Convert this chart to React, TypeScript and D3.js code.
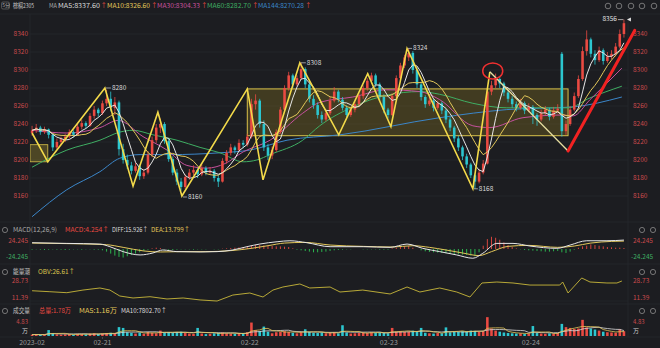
import React from "react";
import * as d3 from "d3";

const W = 660, H = 348;

const opens = [
  8230, 8233, 8236, 8231, 8234, 8228, 8214, 8220, 8223, 8226, 8231, 8228,
  8237, 8241, 8238, 8249, 8256, 8252, 8263, 8268, 8258, 8264, 8212, 8200,
  8194, 8188, 8193, 8182, 8186, 8206, 8222, 8236, 8240, 8221, 8201, 8186,
  8176, 8170, 8181, 8186, 8189, 8184, 8191, 8186, 8188, 8180, 8176, 8199,
  8208, 8214, 8211, 8219, 8217, 8226, 8262, 8266, 8240, 8214, 8205, 8211,
  8231, 8256, 8280, 8294, 8284, 8291, 8301, 8284, 8268, 8261, 8250, 8245,
  8252, 8266, 8276, 8267, 8258, 8250, 8256, 8262, 8271, 8280, 8288, 8294,
  8284, 8270, 8256, 8250, 8271, 8291, 8305, 8314, 8319, 8300, 8284, 8270,
  8262, 8266, 8258, 8263, 8255, 8245, 8236, 8224, 8214, 8204, 8195, 8183,
  8176, 8186, 8196, 8276, 8283, 8290, 8285, 8275, 8268, 8262, 8258, 8263,
  8255, 8259, 8250, 8245, 8252, 8256, 8248, 8255, 8318, 8232, 8240, 8256,
  8271, 8290, 8321, 8334, 8318, 8311, 8322, 8310, 8315, 8318, 8326, 8340,
];
const highs = [
  8238, 8240, 8238, 8237, 8235, 8229, 8224, 8226, 8229, 8234, 8233, 8240,
  8245, 8243, 8252, 8260, 8258, 8266, 8278, 8276, 8270, 8266, 8218, 8206,
  8198, 8197, 8195, 8190, 8210, 8226, 8240, 8246, 8242, 8224, 8204, 8190,
  8180, 8184, 8190, 8194, 8191, 8195, 8193, 8192, 8190, 8183, 8202, 8211,
  8218, 8216, 8223, 8222, 8229, 8268, 8273, 8268, 8244, 8218, 8215, 8234,
  8259, 8283, 8298, 8296, 8294, 8308, 8303, 8287, 8272, 8264, 8254, 8256,
  8270, 8281, 8278, 8270, 8261, 8259, 8265, 8274, 8283, 8291, 8297, 8296,
  8286, 8273, 8258, 8274, 8294, 8308, 8317, 8324, 8321, 8303, 8287, 8272,
  8270, 8268, 8266, 8265, 8257, 8248, 8238, 8227, 8216, 8207, 8197, 8185,
  8190, 8200, 8280, 8288, 8296, 8293, 8287, 8278, 8271, 8265, 8268, 8265,
  8263, 8261, 8252, 8256, 8260, 8258, 8259, 8262, 8320, 8244, 8260, 8275,
  8294, 8326, 8344, 8336, 8322, 8326, 8324, 8320, 8322, 8330, 8345, 8356,
];
const lows = [
  8227, 8230, 8228, 8229, 8224, 8210, 8212, 8217, 8220, 8224, 8225, 8227,
  8234, 8235, 8237, 8246, 8248, 8250, 8260, 8254, 8250, 8205, 8196, 8190,
  8184, 8186, 8178, 8179, 8184, 8203, 8219, 8230, 8218, 8198, 8183, 8172,
  8166, 8168, 8178, 8183, 8180, 8182, 8183, 8184, 8176, 8170, 8175, 8196,
  8205, 8207, 8209, 8213, 8215, 8224, 8256, 8236, 8210, 8200, 8201, 8209,
  8229, 8254, 8277, 8280, 8282, 8289, 8280, 8264, 8257, 8246, 8241, 8243,
  8250, 8264, 8264, 8255, 8247, 8248, 8253, 8260, 8268, 8277, 8285, 8281,
  8266, 8252, 8246, 8249, 8269, 8288, 8302, 8310, 8296, 8280, 8266, 8258,
  8260, 8254, 8256, 8251, 8241, 8232, 8220, 8210, 8200, 8191, 8180, 8168,
  8174, 8184, 8195, 8272, 8280, 8280, 8271, 8264, 8258, 8254, 8256, 8251,
  8253, 8240, 8238, 8243, 8250, 8244, 8246, 8252, 8226, 8228, 8238, 8254,
  8269, 8288, 8316, 8314, 8306, 8309, 8306, 8308, 8312, 8315, 8324, 8336,
];
const closes = [
  8233, 8236, 8231, 8234, 8228, 8214, 8220, 8223, 8226, 8231, 8228, 8237,
  8241, 8238, 8249, 8256, 8252, 8263, 8268, 8258, 8264, 8212, 8200, 8194,
  8188, 8193, 8182, 8186, 8206, 8222, 8236, 8240, 8221, 8201, 8186, 8176,
  8170, 8181, 8186, 8189, 8184, 8191, 8186, 8188, 8180, 8176, 8199, 8208,
  8214, 8211, 8219, 8217, 8226, 8262, 8266, 8240, 8214, 8205, 8211, 8231,
  8256, 8280, 8294, 8284, 8291, 8301, 8284, 8268, 8261, 8250, 8245, 8252,
  8266, 8276, 8267, 8258, 8250, 8256, 8262, 8271, 8280, 8288, 8294, 8284,
  8270, 8256, 8250, 8271, 8291, 8305, 8314, 8319, 8300, 8284, 8270, 8262,
  8266, 8258, 8263, 8255, 8245, 8236, 8224, 8214, 8204, 8195, 8183, 8176,
  8186, 8196, 8276, 8283, 8290, 8285, 8275, 8268, 8262, 8258, 8263, 8255,
  8259, 8250, 8245, 8252, 8256, 8248, 8255, 8257, 8232, 8240, 8256, 8271,
  8290, 8321, 8334, 8318, 8311, 8322, 8310, 8315, 8318, 8326, 8340, 8352,
];
const volumes = [
  0.5, 0.6, 0.4, 0.5, 2.2, 1.0, 0.6, 0.5, 0.6, 0.7, 0.5, 0.8,
  0.7, 0.6, 0.9, 1.0, 0.7, 0.9, 1.1, 1.2, 0.9, 3.3, 3.0, 1.4,
  1.2, 0.9, 1.3, 0.8, 1.5, 1.2, 1.0, 2.0, 1.3, 1.5, 1.2, 1.4,
  1.6, 1.1, 0.9, 0.8, 3.0, 0.9, 0.7, 0.8, 1.0, 1.2, 1.3, 1.0,
  0.9, 0.8, 1.0, 0.9, 1.4, 5.0, 2.2, 1.8, 3.5, 1.6, 1.0, 1.4,
  1.6, 1.8, 1.5, 1.2, 1.0, 1.4, 2.5, 1.5, 1.2, 1.1, 1.3, 1.0,
  1.2, 1.4, 1.0, 4.0, 1.3, 0.9, 1.0, 1.2, 1.3, 1.1, 1.4, 1.2,
  1.3, 1.1, 1.0, 3.0, 1.6, 1.8, 1.5, 1.6, 2.0, 1.5, 3.0, 1.2,
  1.0, 0.9, 1.1, 1.0, 3.2, 1.4, 1.6, 1.5, 1.8, 1.7, 2.0, 1.9,
  1.5, 1.8, 7.0, 2.8, 2.0, 1.6, 1.3, 1.1, 1.0, 0.9, 1.0, 0.8,
  0.9, 3.7, 1.1, 0.9, 0.8, 1.0, 0.9, 1.1, 4.5, 3.3, 3.0, 2.6,
  2.8, 6.0, 3.2, 2.8, 2.4, 2.0, 1.6, 1.4, 1.3, 1.2, 2.5, 1.8,
];

// moving averages (bar index, value)
const ma30Idx = [0, 8.4, 16.4, 20.8, 26.8, 32.6, 37.4, 42.3, 46.6, 51, 57.5, 65.4, 69.5, 77.5, 85.7, 93.7, 98.5, 106.5, 110.6, 118.6, 128.2, 130.7, 134.8, 142.5];
const ma30Val = [8233, 8230, 8236, 8244, 8226, 8211, 8194, 8191, 8196, 8209, 8222, 8252, 8264, 8270, 8278, 8276, 8267, 8238, 8236, 8247, 8250, 8249, 8267, 8302];
const ma60Idx = [0, 8.4, 16.4, 21.2, 24.4, 29.2, 35, 40.6, 45.4, 51, 54.3, 57.5, 65.4, 69.5, 77.5, 85.7, 93.7, 98.5, 106.5, 114.7, 122.7, 129.5, 134.8, 142.5];
const ma60Val = [8192, 8211, 8222, 8231, 8233, 8228, 8222, 8214, 8208, 8198, 8200, 8206, 8222, 8238, 8259, 8272, 8276, 8273, 8263, 8258, 8258, 8258, 8269, 8282];
const ma144Idx = [0, 8.4, 16.4, 21.2, 26.1, 33.3, 45.4, 52.6, 61.6, 74.4, 98.5, 114.7, 130.7, 142.5];
const ma144Val = [8137, 8167, 8187, 8202, 8206, 8206, 8208, 8211, 8222, 8228, 8247, 8256, 8259, 8270];

// MACD
const diffIdx = [0, 8.4, 16.4, 18.8, 22, 26.1, 29.2, 31.6, 35, 40.6, 44.7, 48.5, 51.9, 55, 59.2, 62.3, 66.4, 72, 80, 86.5, 90.6, 94.4, 98.5, 102.6, 106.5, 108.9, 112.3, 116.2, 120.3, 126.8, 130, 134, 138.9, 143];
const diffVal = [19, 17, 15, 7, -8, -18, -12, -3, -8, -9, -8, -3, 7, 15, 22, 25, 19, 7, 7, 5, 15, 2, -8, -18, -28, -13, 17, 17, 9, 2, 12, 25, 25, 27];
const deaIdx = [0, 10, 18, 22, 27, 31, 36, 42, 48, 53, 57, 61, 66, 72, 80, 87, 92, 96, 100, 104, 108, 111, 115, 120, 127, 131, 135, 140, 143];
const deaVal = [18, 16, 13, 5, -6, -9, -8, -8, -5, 2, 10, 18, 20, 12, 8, 6, 10, 5, -3, -12, -20, -8, 8, 11, 5, 9, 18, 23, 24];
const macdHist = [
  -2, -1, -2, -3, -2, -1, -2, -2, -3, -2, -1, -1, -2, -1, -1, -2, -2,
  -4, -8, -14, -20, -24, -26, -22, -18, -14, -10, -6,
  -2, 2, 4, 3,
  -1, -2, -3, -2, -1, -1, -1, -2, -1, -1, -1, 0, -1, -1,
  1, 2, 3, 4, 5, 6, 8, 10, 12, 12, 11, 10, 9, 8, 8, 7, 6,
  2, -2, -4, -6, -8, -10, -10, -9, -8, -6,
  -4, -3, -2, -1, -1, 0, 0, -1, -1, -1, -1, -2, -2, -2,
  2, 4, 6, 8, 9,
  4, 0, -4, -7, -9, -10, -11, -12,
  -13, -14, -15, -16, -17, -18, -20, -22,
  -10, 10, 30, 37, 34, 28, 20, 12,
  6, 2, -1, -3, -4, -5, -6, -7, -8, -8, -7, -6,
  -10, -12, -8, -2, 4, 8, 10,
  14, 12, 10, 8, 6, 5, 4, 4, 3,
];

const obvIdx = [0, 4.3, 8.4, 12.3, 16.4, 18.8, 21.2, 24.4, 28.5, 32.6, 36.5, 40.6, 44.7, 48.5, 52.6, 55.8, 58.2, 60.6, 64.7, 67.1, 72, 74.4, 79.9, 86.5, 90.6, 93.7, 98.5, 102.6, 105.8, 108.7, 112.3, 116.2, 120.3, 127.5, 128.2, 129.5, 132.8, 134.8, 138.9, 141.3, 142.5];
const obvVal = [18.8, 17.8, 16.8, 19.5, 21.6, 19.5, 13.4, 11.4, 12.7, 10.4, 11.4, 9.4, 8.3, 14.4, 16.5, 12.4, 19.5, 22.6, 25.7, 21.6, 22.6, 17.5, 19.5, 15.5, 22.6, 17.5, 21.6, 17.5, 12.4, 26.7, 27.7, 26.7, 24.6, 24.6, 27.7, 16.5, 31.8, 27.7, 26.7, 26.7, 28.7];

// drawn annotations (bar index, price)
const zigIdx = [0, 3.8, 17.6, 24.4, 30.4, 36.2, 52, 55.8, 64.7, 74.1, 81.1, 86.7, 90.6, 106.5, 110.6];
const zigVal = [8230, 8198, 8280, 8171, 8253, 8160, 8279, 8178, 8308, 8228, 8296, 8237, 8324, 8168, 8298];
const fallIdx = [110.6, 129.5];
const fallVal = [8298, 8210];
const arrowIdx = [129.5, 145.6];
const arrowVal = [8210, 8344];
const box1Idx = [-0.5, 3.8];
const box1Val = [8217, 8198];
const box2Idx = [52, 129.5];
const box2Val = [8279, 8227];
const circleIdx = 111.3, circleVal = 8299;

const priceTicks = [8340, 8320, 8300, 8280, 8260, 8240, 8220, 8200, 8180, 8160];
const dateLabels = ["2023-02", "02-21", "02-22", "02-23", "02-24"];
const dateIdx = [0, 17, 52.6, 86.2, 120.5];

const UP = "#ea4a42", DN = "#2cc6cf", GR = "#2cc452";
const BG = "#1c1d21";
const GRID = "#27282d";
const FONT = "'Noto Sans CJK SC', 'Noto Sans', sans-serif";

function sma(a: number[], n: number) {
  return a.map((_, i) => d3.mean(a.slice(Math.max(0, i - n + 1), i + 1)) as number);
}

export default function App() {
  const N = closes.length;
  const x = d3.scaleLinear().domain([-0.5, N - 0.5]).range([30, 626]);
  const bw = ((626 - 30) / N) * 0.62;
  const y = d3.scaleLinear().domain([8160, 8340]).range([196, 34]);
  const yM = d3.scaleLinear().domain([-24.245, 24.245]).range([257, 241]);
  const yO = d3.scaleLinear().domain([11.39, 28.73]).range([298, 281]);
  const yV = d3.scaleLinear().domain([0, 4.83]).range([336, 323]);

  const idx = d3.range(N);
  const lineP = (vals: number[], ys = y) =>
    d3.line<number>().x((_, i) => x(i)).y((v) => ys(v))(vals) as string;
  const linePts = (ix: number[], vs: number[], ys = y, curve: any = d3.curveMonotoneX) =>
    d3.line<number>().x((v) => x(v)).y((_, i) => ys(vs[i])).curve(curve)(ix) as string;

  const ma5 = sma(closes, 5);
  const ma10 = sma(closes, 10);
  const vma5 = sma(volumes, 5), vma10 = sma(volumes, 10);

  const t = (s: string, px: number, py: number, fill: string, extra: any = {}) => (
    <text x={px} y={py} fill={fill} fontSize={7} fontFamily={FONT} dominantBaseline="middle" {...extra}>{s}</text>
  );
  const tl = (s: string, px: number, py: number, fill: string, len: number) =>
    t(s, px, py, fill, { fontSize: 6.5, textLength: len, lengthAdjust: "spacingAndGlyphs" });

  const labelAt = (i: number, v: number, s: string, dx: number, dy: number) => {
    const px = x(i), py = y(v);
    return (
      <g key={s}>
        <line x1={px + 1} x2={px + dx - 1} y1={py + dy} y2={py + dy} stroke="#cfcfcf" strokeWidth={0.7} />
        {t(s, px + dx, py + dy, "#d8d8d8", { fontSize: 6.5 })}
      </g>
    );
  };

  return (
    <svg width={W} height={H} style={{ position: "absolute", left: 0, top: 0, background: BG }}>
      <rect x={0} y={0} width={W} height={H} fill={BG} />
      <defs>
        <clipPath id="mainClip"><rect x={30} y={15} width={598} height={205} /></clipPath>
        <clipPath id="macdClip"><rect x={30} y={234} width={598} height={29} /></clipPath>
      </defs>

      {/* grid */}
      {priceTicks.map((p) => (
        <line key={p} x1={30} x2={628} y1={y(p)} y2={y(p)} stroke={GRID} strokeWidth={0.8} />
      ))}
      <line x1={30} x2={30} y1={14} y2={337} stroke={GRID} strokeWidth={0.8} />
      <line x1={628} x2={628} y1={14} y2={337} stroke={GRID} strokeWidth={0.8} />
      {[14, 222, 264, 304, 337].map((yy) => (
        <line key={yy} x1={0} x2={W} y1={yy} y2={yy} stroke={GRID} strokeWidth={0.8} />
      ))}
      <line x1={30} x2={628} y1={yO(11.39) + 3} y2={yO(11.39) + 3} stroke={GRID} strokeWidth={0.6} />

      {/* header */}
      <rect x={1.5} y={2} width={8} height={7} rx={1.5} fill="none" stroke="#777" strokeWidth={0.6} />
      {t("5分", 2.2, 6, "#aaa", { fontSize: 5 })}
      {tl("棕榈2305", 13, 6, "#c8c8c8", 21)}
      {tl("MA", 49, 6, "#aaa", 8)}
      {tl("MA5:8337.60", 58, 6, "#d9d9d9", 42)}
      {t("↑", 100.5, 6, UP, { fontSize: 6.5 })}
      {tl("MA10:8326.60", 107, 6, "#e3c75a", 43)}
      {t("↑", 151, 6, UP, { fontSize: 6.5 })}
      {tl("MA30:8304.33", 157, 6, "#c6519d", 43)}
      {t("↑", 201, 6, UP, { fontSize: 6.5 })}
      {tl("MA60:8282.70", 207, 6, "#3fae63", 44)}
      {t("↑", 252, 6, UP, { fontSize: 6.5 })}
      {tl("MA144:8270.28", 258, 6, "#3b86c9", 46)}
      {t("↑", 305, 6, UP, { fontSize: 6.5 })}
      {[608, 619, 631, 642, 654].map((cx) => (
        <circle key={cx} cx={cx} cy={6} r={2.8} fill="none" stroke="#8a8a8a" strokeWidth={0.8} />
      ))}

      {/* price axis labels */}
      {priceTicks.map((p) => (
        <g key={"l" + p}>
          {t(String(p), 28, y(p), "#c84a4c", { textAnchor: "end", fontSize: 6.5 })}
          {t(String(p), 633, y(p), "#c84a4c", { fontSize: 6.5 })}
        </g>
      ))}

      <g clipPath="url(#mainClip)">
        <rect x={x(box1Idx[0])} y={y(box1Val[0])} width={x(box1Idx[1]) - x(box1Idx[0])} height={y(box1Val[1]) - y(box1Val[0])}
          fill="#8a7a2a" fillOpacity={0.45} stroke="#d9c24a" strokeWidth={0.8} />
        <rect x={x(box2Idx[0])} y={y(box2Val[0])} width={x(box2Idx[1]) - x(box2Idx[0])} height={y(box2Val[1]) - y(box2Val[0])}
          fill="#7a6a22" fillOpacity={0.4} stroke="#d9c24a" strokeWidth={1} />

        <path d={linePts(ma144Idx, ma144Val)} fill="none" stroke="#3b86c9" strokeWidth={1} />
        <path d={linePts(ma60Idx, ma60Val)} fill="none" stroke="#3fae63" strokeWidth={1} />
        <path d={linePts(ma30Idx, ma30Val)} fill="none" stroke="#c6519d" strokeWidth={1} />

        {idx.map((i) => {
          const up = closes[i] >= opens[i];
          const c = up ? UP : DN;
          const top = y(Math.max(opens[i], closes[i]));
          const bot = y(Math.min(opens[i], closes[i]));
          return (
            <g key={i}>
              <line x1={x(i)} x2={x(i)} y1={y(highs[i])} y2={y(lows[i])} stroke={c} strokeWidth={0.8} />
              <rect x={x(i) - bw / 2} y={top} width={bw} height={Math.max(0.8, bot - top)} fill={c} />
            </g>
          );
        })}

        <path d={lineP(ma10)} fill="none" stroke="#e3c75a" strokeWidth={1} />
        <path d={lineP(ma5)} fill="none" stroke="#e6e6e6" strokeWidth={1} />

        <path d={linePts(zigIdx, zigVal, y, d3.curveLinear)} fill="none" stroke="#f3da4a" strokeWidth={1.6} />
        <path d={linePts(fallIdx, fallVal, y, d3.curveLinear)} fill="none" stroke="#e8e0a2" strokeWidth={1.3} />
        <ellipse cx={x(circleIdx)} cy={y(circleVal)} rx={10} ry={8} fill="none" stroke="#f03030" strokeWidth={1.5} />
      </g>

      <path d={linePts(arrowIdx, arrowVal, y, d3.curveLinear)} fill="none" stroke="#f22222" strokeWidth={3} strokeLinecap="round" />

      {labelAt(17.6, 8280, "8280", 7, 0)}
      {labelAt(36.2, 8160, "8160", 6, 1)}
      {labelAt(64.7, 8308, "8308", 7, 0)}
      {labelAt(90.6, 8324, "8324", 6, 0)}
      {labelAt(106.5, 8168, "8168", 6, 0)}
      <g>
        <line x1={x(143) - 6} x2={x(143) - 0.5} y1={y(8356)} y2={y(8356)} stroke="#ddd" strokeWidth={0.7} />
        {t("8356", x(143) - 7, y(8356), "#e0e0e0", { textAnchor: "end", fontSize: 6.5 })}
        <path d={`M${x(143) + 3},${y(8356)} l4,-2 l0,4 z`} fill="#e0e0e0" />
      </g>

      {/* MACD panel */}
      <circle cx={5} cy={230} r={2.6} fill="none" stroke="#8a8a8a" strokeWidth={0.8} />
      {tl("MACD(12,26,9)", 13, 230, "#aaa", 44)}
      {tl("MACD:4.254↑", 65, 230, UP, 44)}
      {tl("DIFF:15.926↑", 112, 230, "#dcdcdc", 36)}
      {tl("DEA:13.799↑", 151, 230, "#e3c75a", 39)}
      {t("24.245", 28, yM(24.245), "#c84a4c", { textAnchor: "end", fontSize: 6.5 })}
      {t("-24.245", 28, yM(-24.245), "#3fae63", { textAnchor: "end", fontSize: 6.5 })}
      {t("24.245", 633, yM(24.245), "#c84a4c", { fontSize: 6.5 })}
      {t("-24.245", 631, yM(-24.245), "#3fae63", { fontSize: 6.5 })}
      {[642, 653].map((cx) => (
        <circle key={"mc" + cx} cx={cx} cy={230} r={2.6} fill="none" stroke="#8a8a8a" strokeWidth={0.8} />
      ))}
      <g clipPath="url(#macdClip)">
        {idx.map((i) => (
          <line key={"h" + i} x1={x(i)} x2={x(i)} y1={yM(0)} y2={yM(macdHist[i])} stroke={macdHist[i] >= 0 ? UP : GR} strokeWidth={0.9} />
        ))}
        <path d={linePts(deaIdx, deaVal, yM)} fill="none" stroke="#e3c75a" strokeWidth={1} />
        <path d={linePts(diffIdx, diffVal, yM)} fill="none" stroke="#e6e6e6" strokeWidth={1} />
      </g>

      {/* OBV panel */}
      <circle cx={5} cy={272} r={2.6} fill="none" stroke="#8a8a8a" strokeWidth={0.8} />
      {tl("能量潮", 13, 272, "#c0c0c0", 17)}
      {tl("OBV:26.61↑", 38, 272, "#d8c24e", 37)}
      {t("28.73", 28, yO(28.73), "#c84a4c", { textAnchor: "end", fontSize: 6.5 })}
      {t("11.39", 28, yO(11.39), "#c84a4c", { textAnchor: "end", fontSize: 6.5 })}
      {t("28.73", 633, yO(28.73), "#c84a4c", { fontSize: 6.5 })}
      {t("11.39", 633, yO(11.39), "#c84a4c", { fontSize: 6.5 })}
      {[642, 653].map((cx) => (
        <circle key={"oc" + cx} cx={cx} cy={272} r={2.6} fill="none" stroke="#8a8a8a" strokeWidth={0.8} />
      ))}
      <path d={linePts(obvIdx, obvVal, yO, d3.curveLinear)} fill="none" stroke="#c8b83a" strokeWidth={0.9} />

      {/* Volume panel */}
      <circle cx={5} cy={311} r={2.6} fill="none" stroke="#8a8a8a" strokeWidth={0.8} />
      {tl("成交量", 13, 311, "#c0c0c0", 17)}
      {tl("总量:1.78万", 39, 311, UP, 32)}
      {tl("MA5:1.16万", 79, 311, "#e3c75a", 38)}
      {tl("MA10:7802.70↑", 121, 311, "#dcdcdc", 46)}
      {t("4.83", 28, 322.5, "#c84a4c", { textAnchor: "end", fontSize: 6 })}
      {t("万", 28, 331.5, "#cfcfcf", { textAnchor: "end", fontSize: 6 })}
      {t("4.83", 633, 322.5, "#c84a4c", { fontSize: 6 })}
      {t("万", 633, 331.5, "#cfcfcf", { fontSize: 6 })}
      {[642, 653].map((cx) => (
        <circle key={"vc" + cx} cx={cx} cy={311} r={2.6} fill="none" stroke="#8a8a8a" strokeWidth={0.8} />
      ))}
      {idx.map((i) => {
        const up = closes[i] >= opens[i];
        return (
          <rect key={"v" + i} x={x(i) - bw / 2} y={yV(volumes[i])} width={bw} height={yV(0) - yV(volumes[i])} fill={up ? UP : DN} />
        );
      })}
      <path d={lineP(vma10, yV)} fill="none" stroke="#dcdcdc" strokeWidth={0.8} />
      <path d={lineP(vma5, yV)} fill="none" stroke="#e3c75a" strokeWidth={0.8} />

      {/* date axis */}
      {dateLabels.map((s, k) => (
        <g key={s}>
          <line x1={x(dateIdx[k])} x2={x(dateIdx[k])} y1={337} y2={339} stroke="#555" strokeWidth={0.8} />
          {t(s, x(dateIdx[k]), 343, "#9a9a9a", { textAnchor: "middle" })}
        </g>
      ))}
    </svg>
  );
}
